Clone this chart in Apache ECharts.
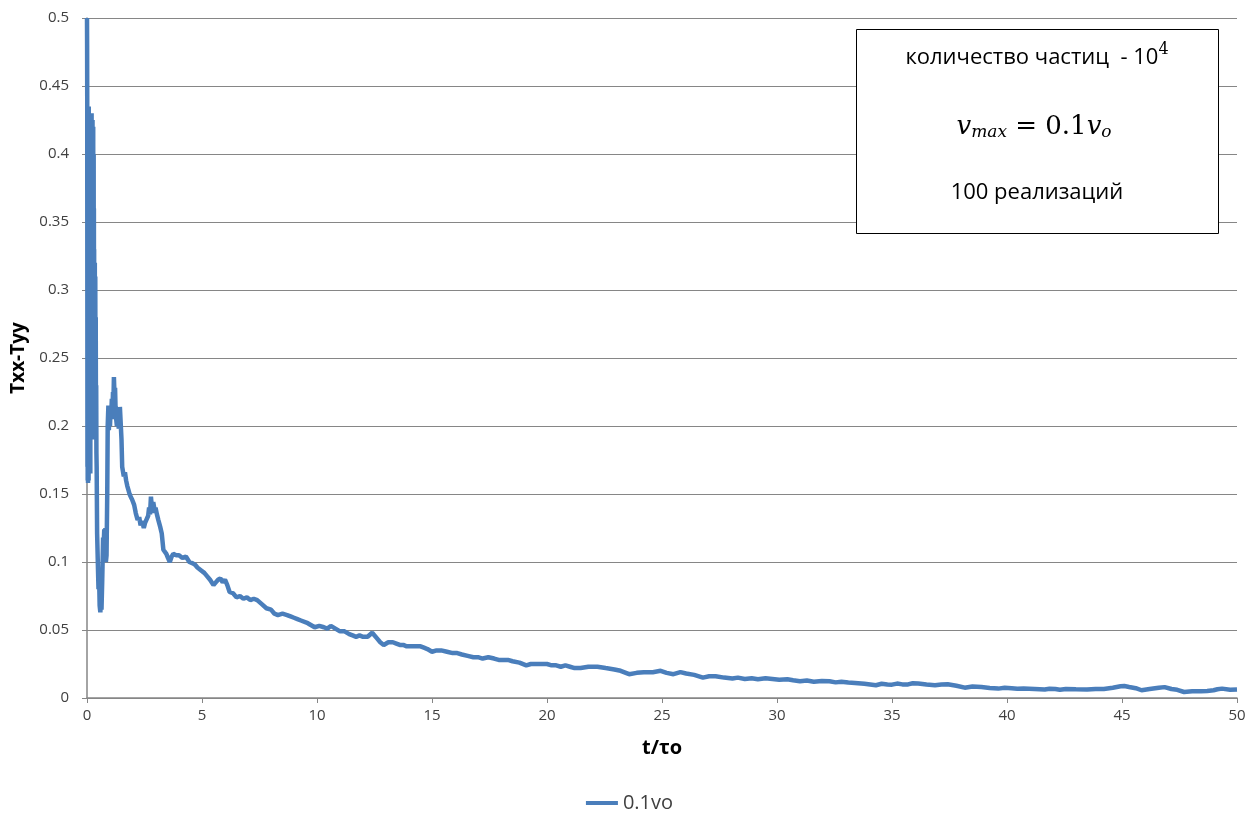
<!DOCTYPE html>
<html>
<head>
<meta charset="utf-8">
<script src="https://cdn.jsdelivr.net/npm/echarts@6/dist/echarts.min.js"></script>
<style>
html,body{margin:0;padding:0;background:#fff;}
#main{width:1259px;height:818px;}
</style>
</head>
<body>
<div id="main"></div>
<script>
// t/τo values
var tValues = [
  0.000, 0.005, 0.010, 0.015, 0.020, 0.025, 0.030, 0.035, 0.040, 0.045,
  0.050, 0.055, 0.060, 0.065, 0.070, 0.075, 0.080, 0.085, 0.090, 0.095,
  0.100, 0.105, 0.110, 0.115, 0.120, 0.125, 0.130, 0.135, 0.140, 0.145,
  0.150, 0.155, 0.160, 0.165, 0.170, 0.175, 0.180, 0.185, 0.190, 0.195,
  0.200, 0.205, 0.210, 0.215, 0.220, 0.225, 0.230, 0.235, 0.240, 0.245,
  0.250, 0.255, 0.260, 0.265, 0.270, 0.275, 0.280, 0.285, 0.290, 0.295,
  0.300, 0.305, 0.310, 0.315, 0.320, 0.325, 0.330, 0.335, 0.340, 0.345,
  0.350, 0.355, 0.360, 0.370, 0.380, 0.390, 0.400, 0.410, 0.420,
  0.44, 0.47, 0.50, 0.52, 0.55, 0.58, 0.60, 0.63, 0.66, 0.70,
  0.72, 0.75, 0.78, 0.80, 0.82, 0.85, 0.88, 0.90, 0.93, 0.95, 0.98, 1.00, 1.03, 1.05, 1.08, 1.10,
  1.13, 1.15, 1.17, 1.20, 1.22, 1.24, 1.27, 1.30, 1.33, 1.35, 1.38, 1.40, 1.43, 1.45, 1.50, 1.53,
  1.60, 1.65, 1.70, 1.75, 1.80, 1.85, 1.90, 1.96, 2.05, 2.12, 2.20, 2.27, 2.33, 2.40, 2.47,
  2.53, 2.60, 2.66, 2.70, 2.74, 2.78, 2.82, 2.85, 2.88, 2.90, 2.94, 2.98, 3.04, 3.10, 3.18, 3.25, 3.32, 3.38, 3.45,
  3.52, 3.60, 3.68, 3.75, 3.88, 4.00, 4.15, 4.30, 4.45, 4.60, 4.70, 4.80, 4.95,
  5.1, 5.2, 5.35, 5.5, 5.6, 5.7, 5.8, 5.9, 6.0, 6.1, 6.2, 6.35, 6.5, 6.65, 6.8, 6.95, 7.1, 7.25, 7.4, 7.6, 7.8,
  8.0, 8.15, 8.3, 8.5, 8.7, 8.85, 9.0, 9.15, 9.3, 9.6, 9.9,
  10.1, 10.3, 10.45, 10.6, 10.8, 11.0, 11.2, 11.4, 11.55, 11.7, 11.85, 12.0, 12.2, 12.4, 12.6, 12.75, 12.9, 13.1, 13.3,
  13.45, 13.6, 13.75, 13.9, 14.2, 14.5, 14.65, 14.8, 15.0, 15.2, 15.4, 15.65, 15.9, 16.1, 16.3, 16.55, 16.8,
  17.0, 17.2, 17.45, 17.7, 17.9, 18.1, 18.3, 18.5, 18.8, 19.1, 19.3, 19.5, 19.8,
  20.0, 20.2, 20.4, 20.6, 20.8, 21.0, 21.2, 21.46, 21.8, 22.19, 22.55, 22.93, 23.2, 23.57, 23.9, 24.21, 24.6, 24.94,
  25.2, 25.5, 25.8, 26.05, 26.4, 26.78, 27.05, 27.33, 27.7, 28.06, 28.3, 28.6, 28.9, 29.17, 29.5, 29.8,
  30.1, 30.45, 30.7, 31.0, 31.3, 31.6, 31.95, 32.28, 32.55, 32.8, 33.1, 33.39, 33.8, 34.3, 34.55, 34.8,
  35.0, 35.22, 35.45, 35.7, 35.9, 36.14, 36.5, 36.87, 37.15, 37.42, 37.8, 38.16, 38.5, 38.89, 39.25, 39.62,
  39.9, 40.2, 40.45, 40.72, 41.2, 41.64, 41.85, 42.1, 42.3, 42.56, 43.0, 43.48, 43.85, 44.21, 44.6, 44.94,
  45.1, 45.31, 45.6, 45.85, 46.2, 46.6, 46.85, 47.15, 47.4, 47.7, 48.05, 48.43, 48.7, 48.98, 49.15, 49.35, 49.7, 50.0
];
// Txx-Tyy values
var txxTyy = [
  0.500, 0.480, 0.440, 0.300, 0.170, 0.360, 0.160, 0.420, 0.200, 0.158,
  0.400, 0.180, 0.430, 0.220, 0.160, 0.435, 0.250, 0.170, 0.420, 0.200,
  0.430, 0.180, 0.410, 0.230, 0.400, 0.170, 0.430, 0.220, 0.380, 0.165,
  0.425, 0.210, 0.410, 0.190, 0.430, 0.240, 0.420, 0.200, 0.400, 0.220,
  0.430, 0.190, 0.410, 0.230, 0.420, 0.210, 0.400, 0.190, 0.425, 0.220,
  0.410, 0.200, 0.390, 0.230, 0.420, 0.210, 0.380, 0.220, 0.400, 0.230,
  0.360, 0.210, 0.330, 0.240, 0.320, 0.220, 0.310, 0.210, 0.320, 0.230,
  0.300, 0.200, 0.310, 0.220, 0.280, 0.200, 0.230, 0.180, 0.170,
  0.121, 0.100, 0.080, 0.095, 0.068, 0.063, 0.070, 0.065, 0.085, 0.118,
  0.110, 0.124, 0.100, 0.125, 0.100, 0.105, 0.150, 0.200, 0.215, 0.197, 0.212, 0.200, 0.215, 0.206, 0.220, 0.205,
  0.225, 0.218, 0.236, 0.220, 0.228, 0.214, 0.205, 0.200, 0.212, 0.210, 0.198, 0.200, 0.214, 0.215, 0.190, 0.170,
  0.163, 0.166, 0.160, 0.156, 0.153, 0.150, 0.148, 0.146, 0.142, 0.136, 0.131, 0.133, 0.127, 0.130, 0.125,
  0.129, 0.128, 0.134, 0.140, 0.135, 0.148, 0.140, 0.136, 0.144, 0.145, 0.138, 0.140, 0.135, 0.131, 0.126, 0.121, 0.109, 0.110, 0.106,
  0.103, 0.100, 0.104, 0.106, 0.105, 0.105, 0.103, 0.104, 0.100, 0.099, 0.098, 0.096, 0.094,
  0.092, 0.090, 0.087, 0.083, 0.085, 0.087, 0.088, 0.085, 0.087, 0.083, 0.078, 0.077, 0.074, 0.075, 0.073, 0.074, 0.072, 0.073, 0.072, 0.069, 0.066,
  0.065, 0.062, 0.061, 0.062, 0.061, 0.060, 0.059, 0.058, 0.057, 0.055, 0.052,
  0.053, 0.052, 0.051, 0.053, 0.051, 0.049, 0.049, 0.047, 0.046, 0.045, 0.046, 0.045, 0.045, 0.048, 0.044, 0.041, 0.039, 0.041, 0.041,
  0.040, 0.039, 0.039, 0.038, 0.038, 0.038, 0.037, 0.036, 0.034, 0.035, 0.035, 0.034, 0.033, 0.033, 0.032, 0.031, 0.030,
  0.030, 0.029, 0.030, 0.029, 0.028, 0.028, 0.028, 0.027, 0.026, 0.024, 0.025, 0.025, 0.025,
  0.025, 0.024, 0.024, 0.023, 0.024, 0.023, 0.022, 0.022, 0.023, 0.023, 0.022, 0.021, 0.020, 0.0175, 0.0185, 0.019, 0.019, 0.020,
  0.0185, 0.0175, 0.019, 0.018, 0.017, 0.015, 0.016, 0.016, 0.015, 0.0143, 0.015, 0.014, 0.0145, 0.0138, 0.0145, 0.014,
  0.0135, 0.0138, 0.013, 0.0123, 0.0128, 0.012, 0.0125, 0.0123, 0.0115, 0.012, 0.0114, 0.0111, 0.0105, 0.0094, 0.0105, 0.010,
  0.0098, 0.0106, 0.0100, 0.010, 0.0108, 0.0106, 0.0099, 0.0094, 0.0100, 0.0101, 0.0090, 0.0076, 0.0085, 0.0081, 0.0074, 0.0069,
  0.0075, 0.0072, 0.0068, 0.0069, 0.0066, 0.0062, 0.0068, 0.0066, 0.0060, 0.0066, 0.0064, 0.0062, 0.0067, 0.0066, 0.0075, 0.0086,
  0.0088, 0.0081, 0.0072, 0.0057, 0.0066, 0.0076, 0.0080, 0.0066, 0.0060, 0.0044, 0.0050, 0.0049, 0.0052, 0.0057, 0.0064, 0.0069, 0.0060, 0.0062
];

var seriesName = '0.1vo';
var xAxisName = 't/τo';
var yAxisName = 'Txx-Tyy';
var noteLines = ['количество частиц  - 10', '4', '100 реализаций'];

var points = tValues.map(function (t, i) { return [t, txxTyy[i]]; });

var myChart = echarts.init(document.getElementById('main'));
var axisGrey = '#868686';
var labelStyle = { color: '#404040', fontSize: 15, fontFamily: 'Open Sans' };

option = {
    animation: false,
    backgroundColor: '#fff',
    grid: {
        left: 87,
        right: 22,
        top: 18,
        bottom: 120
    },
    legend: {
        bottom: 0,
        left: 'center',
        icon: 'rect',
        itemWidth: 32,
        itemHeight: 4,
        itemGap: 4,
        textStyle: { color: '#404040', fontSize: 20, fontFamily: 'Open Sans' },
        data: [seriesName]
    },
    xAxis: {
        type: 'value',
        min: 0,
        max: 50,
        interval: 5,
        name: xAxisName,
        nameLocation: 'middle',
        nameGap: 40,
        nameTextStyle: { color: '#000', fontSize: 20, fontWeight: 'bold', fontFamily: 'Open Sans' },
        axisLine: { lineStyle: { color: axisGrey, width: 1.5 } },
        axisTick: { length: 5, lineStyle: { color: axisGrey } },
        axisLabel: Object.assign({ margin: 10 }, labelStyle),
        splitLine: { show: false }
    },
    yAxis: {
        type: 'value',
        min: 0,
        max: 0.5,
        interval: 0.05,
        name: yAxisName,
        nameLocation: 'middle',
        nameGap: 58,
        nameTextStyle: { color: '#000', fontSize: 19, fontWeight: 'bold', fontFamily: 'Open Sans' },
        axisLine: { show: true, lineStyle: { color: axisGrey, width: 1.5 } },
        axisTick: { show: true, length: 5, lineStyle: { color: axisGrey } },
        axisLabel: Object.assign({ margin: 18 }, labelStyle),
        splitLine: { lineStyle: { color: axisGrey, width: 1.2 } }
    },
    series: [
        {
            name: seriesName,
            type: 'line',
            data: points,
            showSymbol: false,
            lineStyle: { color: '#4a7ebb', width: 4.5 },
            itemStyle: { color: '#4a7ebb' }
        }
    ],
    graphic: [
        {
            type: 'rect',
            left: 856,
            top: 29,
            shape: { width: 362, height: 204 },
            style: { fill: '#fff', stroke: '#000', lineWidth: 1 },
            z: 100
        },
        {
            type: 'text',
            z: 101,
            style: {
                x: 1037, y: 58,
                text: '{a|' + noteLines[0] + '}{sup|' + noteLines[1] + '}',
                align: 'center',
                verticalAlign: 'middle',
                rich: {
                    a: { fontSize: 22, fontFamily: 'Open Sans', color: '#000' },
                    sup: { fontSize: 16, fontFamily: 'DejaVu Serif', color: '#000', verticalAlign: 'bottom', padding: [0, 0, 16, 0] }
                }
            }
        },
        {
            type: 'text',
            z: 101,
            style: {
                x: 1034, y: 127,
                text: '{v|v}{sub|max}{n| = 0.1}{v|v}{sub|o}',
                align: 'center',
                verticalAlign: 'middle',
                rich: {
                    v: { fontSize: 26, fontFamily: 'DejaVu Serif', fontStyle: 'italic', color: '#000' },
                    n: { fontSize: 26, fontFamily: 'DejaVu Serif', color: '#000' },
                    sub: { fontSize: 17, fontFamily: 'DejaVu Serif', fontStyle: 'italic', color: '#000', padding: [12, 0, 0, 0] }
                }
            }
        },
        {
            type: 'text',
            z: 101,
            style: {
                x: 1037, y: 193,
                text: noteLines[2],
                align: 'center',
                verticalAlign: 'middle',
                fontSize: 22,
                fontFamily: 'Open Sans',
                fill: '#000'
            }
        }
    ]
};
myChart.setOption(option);
</script>
</body>
</html>
